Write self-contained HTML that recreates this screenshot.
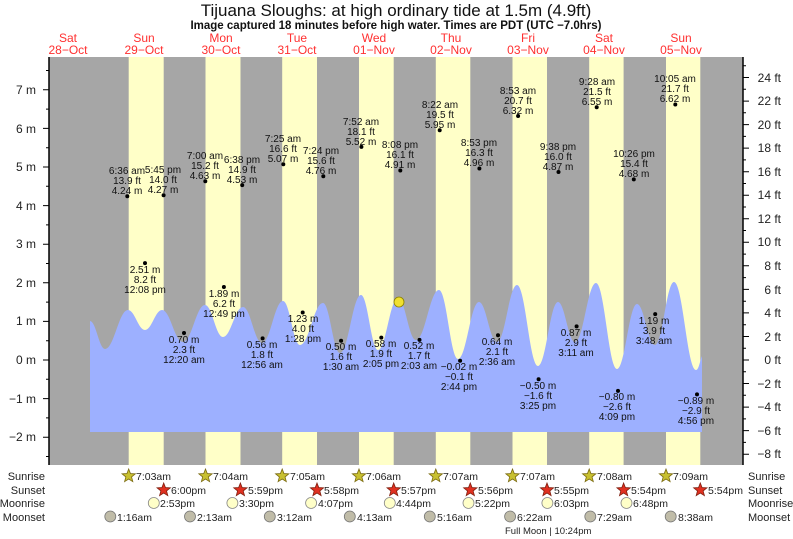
<!DOCTYPE html>
<html><head><meta charset="utf-8"><style>
html,body{margin:0;padding:0;background:#fff}
svg{display:block;font-family:"Liberation Sans",sans-serif}
.t{font-size:10px;fill:#111;text-anchor:middle}
.ax{font-size:12px;fill:#222}
.r{font-size:11px;fill:#222}
</style></head><body>
<svg width="793" height="539" viewBox="0 0 793 539" xmlns="http://www.w3.org/2000/svg">
<defs>
<polygon id="st" points="0,-7 1.76,-2.43 6.66,-2.16 2.85,0.93 4.11,5.66 0,3 -4.11,5.66 -2.85,0.93 -6.66,-2.16 -1.76,-2.43"/>
</defs>
<text x="396" y="16" font-size="17" text-anchor="middle" fill="#111">Tijuana Sloughs: at high  ordinary tide at 1.5m (4.9ft)</text>
<text x="396" y="29" font-size="11.5" font-weight="bold" text-anchor="middle" fill="#111">Image captured 18 minutes before high water. Times are PDT (UTC −7.0hrs)</text>
<g font-size="12" fill="#ff3030" text-anchor="middle">
<text x="68" y="42">Sat</text><text x="68" y="54">28−Oct</text>
<text x="144" y="42">Sun</text><text x="144" y="54">29−Oct</text>
<text x="221" y="42">Mon</text><text x="221" y="54">30−Oct</text>
<text x="297" y="42">Tue</text><text x="297" y="54">31−Oct</text>
<text x="374" y="42">Wed</text><text x="374" y="54">01−Nov</text>
<text x="451" y="42">Thu</text><text x="451" y="54">02−Nov</text>
<text x="528" y="42">Fri</text><text x="528" y="54">03−Nov</text>
<text x="604" y="42">Sat</text><text x="604" y="54">04−Nov</text>
<text x="681" y="42">Sun</text><text x="681" y="54">05−Nov</text>
</g>
<rect x="49" y="57" width="694" height="408" fill="#a6a6a6"/>
<g fill="#ffffc8">
<rect x="128.7" y="57" width="35" height="408"/>
<rect x="205.5" y="57" width="35" height="408"/>
<rect x="282.2" y="57" width="34.8" height="408"/>
<rect x="359" y="57" width="34.7" height="408"/>
<rect x="435.8" y="57" width="34.5" height="408"/>
<rect x="512.5" y="57" width="34.5" height="408"/>
<rect x="589.2" y="57" width="34.4" height="408"/>
<rect x="666" y="57" width="34.3" height="408"/>
</g>
<path fill="#9db0ff" d="M90,432 L90,321 C96,321 99,349 105,349 C114.2,349 118.8,310 128,310 C134.8,310 138.2,330 145,330 C151.8,330 155.2,310 162,310 C170.4,310 174.6,342 183,342 C191.8,342 196.2,305 205,305 C212.2,305 215.8,337 223,337 C231,337 235,307 243,307 C250.6,307 254.4,343 262,343 C270.4,343 274.6,301 283,301 C289.8,301 293.2,345 300,345 C309.2,345 313.8,303 323,303 C329.8,303 333.2,353 340,353 C348.4,353 352.6,295 361,295 C367.8,295 371.2,350 378,350 C386,350 390,298 398,298 C405.2,298 408.8,340 416,340 C425.2,340 429.8,290 439,290 C446.6,290 450.4,359 458,359 C466.4,359 470.6,302 479,302 C486.2,302 489.8,342 497,342 C505,342 509,285 517,285 C525.4,285 529.6,366 538,366 C546,366 550,302 558,302 C564.8,302 568.2,342 575,342 C583.4,342 587.6,283 596,283 C604.4,283 608.6,369 617,369 C625,369 629,304 637,304 C644.2,304 647.8,345 655,345 C662.6,345 666.4,282 674,282 C682.8,282 687.2,370 696,370 C699,370 700,360 702,356 L702,432 Z"/>
<circle cx="399" cy="302" r="5" fill="#f0e030" stroke="#8a8000" stroke-width="0.8"/>
<!-- axes -->
<line x1="49" y1="57" x2="49" y2="465" stroke="#000" stroke-width="1.5"/>
<line x1="743" y1="57" x2="743" y2="465" stroke="#000" stroke-width="1.5"/>
<g stroke="#000" stroke-width="1">
<path d="M43,437.2H49M43,398.6H49M43,360H49M43,321.4H49M43,282.8H49M43,244.2H49M43,205.6H49M43,167H49M43,128.4H49M43,89.8H49"/>
<path d="M46,456.5H49M46,417.9H49M46,379.3H49M46,340.7H49M46,302.1H49M46,263.5H49M46,224.9H49M46,186.3H49M46,147.7H49M46,109.1H49M46,70.5H49"/>
<path d="M743,77.5H749M743,101.1H749M743,124.6H749M743,148.1H749M743,171.7H749M743,195.2H749M743,218.8H749M743,242.3H749M743,265.8H749M743,289.4H749M743,312.9H749M743,336.5H749M743,360H749M743,383.5H749M743,407.1H749M743,430.6H749M743,454.2H749"/>
<path d="M743,65.7H746M743,89.3H746M743,112.8H746M743,136.4H746M743,159.9H746M743,183.5H746M743,207H746M743,230.5H746M743,254.1H746M743,277.6H746M743,301.2H746M743,324.7H746M743,348.2H746M743,371.8H746M743,395.3H746M743,418.9H746M743,442.4H746"/>
</g>
<g class="ax" text-anchor="end">
<text x="36" y="94">7 m</text><text x="36" y="133">6 m</text><text x="36" y="171">5 m</text><text x="36" y="210">4 m</text><text x="36" y="248">3 m</text><text x="36" y="287">2 m</text><text x="36" y="325">1 m</text><text x="36" y="364">0 m</text><text x="36" y="403">−1 m</text><text x="36" y="441">−2 m</text>
</g>
<g class="ax" text-anchor="end">
<text x="781" y="82">24 ft</text><text x="781" y="105">22 ft</text><text x="781" y="129">20 ft</text><text x="781" y="152">18 ft</text><text x="781" y="176">16 ft</text><text x="781" y="199">14 ft</text><text x="781" y="223">12 ft</text><text x="781" y="246">10 ft</text><text x="781" y="270">8 ft</text><text x="781" y="294">6 ft</text><text x="781" y="317">4 ft</text><text x="781" y="341">2 ft</text><text x="781" y="364">0 ft</text><text x="781" y="388">−2 ft</text><text x="781" y="411">−4 ft</text><text x="781" y="435">−6 ft</text><text x="781" y="458">−8 ft</text>
</g>
<!-- tide points -->
<g fill="#000">
<circle cx="127.3" cy="196.3" r="2"/><circle cx="145" cy="263.1" r="2"/><circle cx="163.6" cy="195.2" r="2"/><circle cx="184" cy="333" r="2"/>
<circle cx="205.3" cy="181.3" r="2"/><circle cx="223.9" cy="287" r="2"/><circle cx="242.2" cy="185.1" r="2"/><circle cx="262.6" cy="338.4" r="2"/>
<circle cx="283.3" cy="164.3" r="2"/><circle cx="302.7" cy="312.5" r="2"/><circle cx="323.3" cy="176.3" r="2"/><circle cx="341.1" cy="340.7" r="2"/>
<circle cx="361.4" cy="146.9" r="2"/><circle cx="381.3" cy="337.6" r="2"/><circle cx="400.3" cy="170.5" r="2"/><circle cx="419.5" cy="339.9" r="2"/>
<circle cx="439.7" cy="130.3" r="2"/><circle cx="460.1" cy="360.8" r="2"/><circle cx="479.4" cy="168.5" r="2"/><circle cx="498" cy="335.3" r="2"/>
<circle cx="518.1" cy="116" r="2"/><circle cx="538.6" cy="379.3" r="2"/><circle cx="558.5" cy="172" r="2"/><circle cx="576.6" cy="326.4" r="2"/>
<circle cx="596.7" cy="107.2" r="2"/><circle cx="618" cy="390.9" r="2"/><circle cx="633.8" cy="179.4" r="2"/><circle cx="655.2" cy="314.1" r="2"/>
<circle cx="675.3" cy="104.5" r="2"/><circle cx="697" cy="394.4" r="2"/>
</g>
<g class="t">
<text x="127" y="174">6:36 am</text><text x="127" y="184">13.9 ft</text><text x="127" y="194">4.24 m</text>
<text x="145" y="273">2.51 m</text><text x="145" y="283">8.2 ft</text><text x="145" y="293">12:08 pm</text>
<text x="163" y="173">5:45 pm</text><text x="163" y="183">14.0 ft</text><text x="163" y="193">4.27 m</text>
<text x="184" y="343">0.70 m</text><text x="184" y="353">2.3 ft</text><text x="184" y="363">12:20 am</text>
<text x="205" y="159">7:00 am</text><text x="205" y="169">15.2 ft</text><text x="205" y="179">4.63 m</text>
<text x="224" y="297">1.89 m</text><text x="224" y="307">6.2 ft</text><text x="224" y="317">12:49 pm</text>
<text x="242" y="163">6:38 pm</text><text x="242" y="173">14.9 ft</text><text x="242" y="183">4.53 m</text>
<text x="262" y="348">0.56 m</text><text x="262" y="358">1.8 ft</text><text x="262" y="368">12:56 am</text>
<text x="283" y="142">7:25 am</text><text x="283" y="152">16.6 ft</text><text x="283" y="162">5.07 m</text>
<text x="303" y="322">1.23 m</text><text x="303" y="332">4.0 ft</text><text x="303" y="342">1:28 pm</text>
<text x="321" y="154">7:24 pm</text><text x="321" y="164">15.6 ft</text><text x="321" y="174">4.76 m</text>
<text x="341" y="350">0.50 m</text><text x="341" y="360">1.6 ft</text><text x="341" y="370">1:30 am</text>
<text x="361" y="125">7:52 am</text><text x="361" y="135">18.1 ft</text><text x="361" y="145">5.52 m</text>
<text x="381" y="347">0.58 m</text><text x="381" y="357">1.9 ft</text><text x="381" y="367">2:05 pm</text>
<text x="400" y="148">8:08 pm</text><text x="400" y="158">16.1 ft</text><text x="400" y="168">4.91 m</text>
<text x="419" y="349">0.52 m</text><text x="419" y="359">1.7 ft</text><text x="419" y="369">2:03 am</text>
<text x="440" y="108">8:22 am</text><text x="440" y="118">19.5 ft</text><text x="440" y="128">5.95 m</text>
<text x="459" y="370">−0.02 m</text><text x="459" y="380">−0.1 ft</text><text x="459" y="390">2:44 pm</text>
<text x="479" y="146">8:53 pm</text><text x="479" y="156">16.3 ft</text><text x="479" y="166">4.96 m</text>
<text x="497" y="345">0.64 m</text><text x="497" y="355">2.1 ft</text><text x="497" y="365">2:36 am</text>
<text x="518" y="94">8:53 am</text><text x="518" y="104">20.7 ft</text><text x="518" y="114">6.32 m</text>
<text x="538" y="389">−0.50 m</text><text x="538" y="399">−1.6 ft</text><text x="538" y="409">3:25 pm</text>
<text x="558" y="150">9:38 pm</text><text x="558" y="160">16.0 ft</text><text x="558" y="170">4.87 m</text>
<text x="576" y="336">0.87 m</text><text x="576" y="346">2.9 ft</text><text x="576" y="356">3:11 am</text>
<text x="597" y="85">9:28 am</text><text x="597" y="95">21.5 ft</text><text x="597" y="105">6.55 m</text>
<text x="617" y="400">−0.80 m</text><text x="617" y="410">−2.6 ft</text><text x="617" y="420">4:09 pm</text>
<text x="634" y="157">10:26 pm</text><text x="634" y="167">15.4 ft</text><text x="634" y="177">4.68 m</text>
<text x="654" y="324">1.19 m</text><text x="654" y="334">3.9 ft</text><text x="654" y="344">3:48 am</text>
<text x="675" y="82">10:05 am</text><text x="675" y="92">21.7 ft</text><text x="675" y="102">6.62 m</text>
<text x="696" y="404">−0.89 m</text><text x="696" y="414">−2.9 ft</text><text x="696" y="424">4:56 pm</text>
</g>
<!-- bottom rows -->
<g class="r" text-anchor="end">
<text x="45" y="480">Sunrise</text><text x="45" y="494">Sunset</text><text x="45" y="507">Moonrise</text><text x="45" y="521">Moonset</text>
</g>
<g class="r">
<text x="748" y="480">Sunrise</text><text x="748" y="494">Sunset</text><text x="748" y="507">Moonrise</text><text x="748" y="521">Moonset</text>
</g>
<g fill="#c8c030" stroke="#7a6a10" stroke-width="0.8">
<use href="#st" x="128.7" y="476"/><use href="#st" x="205.5" y="476"/><use href="#st" x="282.2" y="476"/><use href="#st" x="359" y="476"/><use href="#st" x="435.8" y="476"/><use href="#st" x="512.5" y="476"/><use href="#st" x="589.2" y="476"/><use href="#st" x="666" y="476"/>
</g>
<g fill="#e03020" stroke="#802010" stroke-width="0.8">
<use href="#st" x="163.7" y="490"/><use href="#st" x="240.4" y="490"/><use href="#st" x="317" y="490"/><use href="#st" x="393.7" y="490"/><use href="#st" x="470.3" y="490"/><use href="#st" x="547" y="490"/><use href="#st" x="623.6" y="490"/><use href="#st" x="700.3" y="490"/>
</g>
<g fill="#ffffc8" stroke="#888" stroke-width="0.8">
<circle cx="153.8" cy="503" r="5.5"/><circle cx="232.4" cy="503" r="5.5"/><circle cx="311.1" cy="503" r="5.5"/><circle cx="389.8" cy="503" r="5.5"/><circle cx="468.5" cy="503" r="5.5"/><circle cx="547.4" cy="503" r="5.5"/><circle cx="626.5" cy="503" r="5.5"/>
</g>
<g fill="#c0bca8" stroke="#777" stroke-width="0.8">
<circle cx="110.3" cy="516.5" r="5.5"/><circle cx="190" cy="516.5" r="5.5"/><circle cx="269.8" cy="516.5" r="5.5"/><circle cx="349.8" cy="516.5" r="5.5"/><circle cx="429.8" cy="516.5" r="5.5"/><circle cx="510.1" cy="516.5" r="5.5"/><circle cx="590.3" cy="516.5" r="5.5"/><circle cx="670.7" cy="516.5" r="5.5"/>
</g>
<g font-size="10.5" fill="#222">
<text x="136" y="480">7:03am</text><text x="213" y="480">7:04am</text><text x="290" y="480">7:05am</text><text x="366" y="480">7:06am</text><text x="443" y="480">7:07am</text><text x="520" y="480">7:07am</text><text x="597" y="480">7:08am</text><text x="673" y="480">7:09am</text>
<text x="171" y="494">6:00pm</text><text x="248" y="494">5:59pm</text><text x="324" y="494">5:58pm</text><text x="401" y="494">5:57pm</text><text x="478" y="494">5:56pm</text><text x="554" y="494">5:55pm</text><text x="631" y="494">5:54pm</text><text x="708" y="494">5:54pm</text>
<text x="160" y="507">2:53pm</text><text x="239" y="507">3:30pm</text><text x="318" y="507">4:07pm</text><text x="396" y="507">4:44pm</text><text x="475" y="507">5:22pm</text><text x="554" y="507">6:03pm</text><text x="633" y="507">6:48pm</text>
<text x="117" y="521">1:16am</text><text x="197" y="521">2:13am</text><text x="277" y="521">3:12am</text><text x="357" y="521">4:13am</text><text x="437" y="521">5:16am</text><text x="517" y="521">6:22am</text><text x="597" y="521">7:29am</text><text x="678" y="521">8:38am</text>
</g>
<text x="505" y="534" font-size="9.5" fill="#222">Full Moon | 10:24pm</text>
</svg>
</body></html>
